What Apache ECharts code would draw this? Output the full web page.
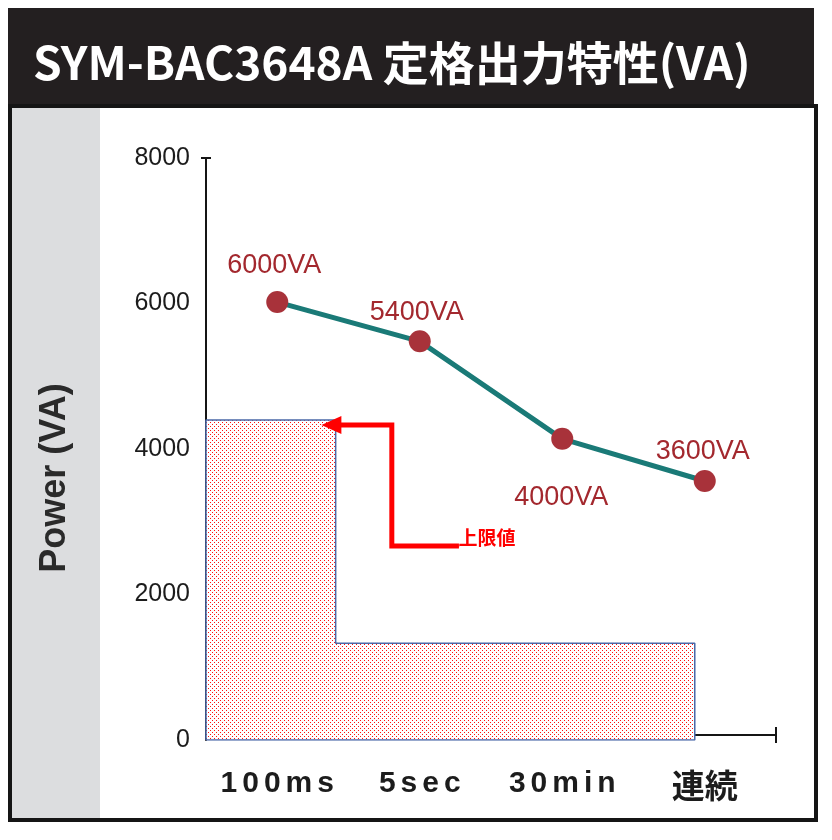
<!DOCTYPE html>
<html>
<head>
<meta charset="utf-8">
<script src="https://cdn.jsdelivr.net/npm/echarts@6/dist/echarts.min.js"></script>
<style>html,body{margin:0;padding:0;background:#fff;}#c{width:832px;height:840px;}</style>
</head>
<body>
<div id="c"></div>
<script>
// ---- data ----
const categories = ['100ms', '5sec', '30min', '連続'];
const powerValues = [6020, 5480, 4140, 3560];
const pointLabels = ['6000VA', '5400VA', '4000VA', '3600VA'];
const yTicks = [0, 2000, 4000, 6000, 8000];
// limit region outline (x in category units, y in VA)
const limitX = [0, 0, 0.91, 0.91, 3.43, 3.43, 0];
const limitY = [0, 4400, 4400, 1330, 1330, 0, 0];
// arrow path (x in category units, y in VA)
const arrowX = [1.775, 1.304, 1.304, 0.88];
const arrowY = [2667, 2667, 4330, 4330];
const arrowText = '上限値';
const titleText = 'SYM-BAC3648A 定格出力特性(VA)';
const yAxisTitle = 'Power (VA)';

// ---- styling helpers ----
const labelOffsets = [[8, -25], [8, -18], [10, 70], [9, -18]];

function makePattern() {
  const c = document.createElement('canvas');
  c.width = 4; c.height = 4;
  const g = c.getContext('2d');
  g.fillStyle = '#ffffff'; g.fillRect(0, 0, 4, 4);
  g.fillStyle = '#ff1010';
  g.fillRect(0, 0, 1, 1);
  g.fillRect(2, 2, 1, 1);
  return c;
}

const chart = echarts.init(document.getElementById('c'), null, {renderer: 'canvas'});

const lineData = powerValues.map((v, i) => ({
  value: v,
  label: {
    show: true,
    formatter: pointLabels[i],
    position: labelOffsets[i],
    align: 'center',
    verticalAlign: 'middle'
  }
}));

const limitData = limitX.map((x, i) => [x, limitY[i]]);
const arrowData = arrowX.map((x, i) => {
  const item = {value: [x, arrowY[i]], symbol: 'none'};
  if (i === 0) {
    item.symbol = 'circle';
    item.symbolSize = 1;
    item.label = {
      show: true, formatter: arrowText, position: [0, -8],
      align: 'left', verticalAlign: 'middle',
      color: '#ff0000', fontSize: 19, fontWeight: 'bold',
      fontFamily: '"Noto Sans CJK JP", sans-serif'
    };
  }
  if (i === arrowX.length - 1) {
    item.symbol = 'triangle';
    item.symbolRotate = 90;
    item.symbolSize = [18, 20];
  }
  return item;
});

const isCJK = s => /[\u3000-\u9fff]/.test(s);

const option = {
  animation: false,
  backgroundColor: '#ffffff',
  graphic: [
    {type: 'rect', z: -10, shape: {x: 8, y: 8, width: 806, height: 100}, style: {fill: '#231f20'}},
    {type: 'rect', z: -10, shape: {x: 12, y: 108, width: 88, height: 710}, style: {fill: '#dcdddf'}},
    {type: 'rect', z: -9, shape: {x: 10, y: 106, width: 806, height: 714}, style: {fill: 'none', stroke: '#151515', lineWidth: 4}},
    {type: 'text', z: -8, left: 33, top: 40, style: {text: titleText, fill: '#ffffff', fontSize: 46, fontWeight: 'bold', fontFamily: '"Noto Sans CJK JP", sans-serif'}},
    {type: 'text', z: -8, x: 55, y: 478, rotation: Math.PI / 2,
      style: {text: yAxisTitle, fill: '#2a2a2a', fontSize: 36, fontWeight: 'bold', fontFamily: '"Liberation Sans", Arial, sans-serif', align: 'center', verticalAlign: 'middle'}}
  ],
  grid: {left: 206, right: 56, top: 158, bottom: 100, containLabel: false},
  xAxis: [
    {
      type: 'category', data: categories, boundaryGap: true, offset: -5,
      axisLine: {show: true, lineStyle: {color: '#151515', width: 2}, symbol: ['none', 'rect'], symbolSize: [16, 2]},
      axisTick: {show: false},
      axisLabel: {
        interval: 0, margin: 34, color: '#1c1c1c', fontSize: 30, fontWeight: 'bold',
        fontFamily: '"Liberation Sans", Arial, "Noto Sans CJK JP", sans-serif',
        formatter: v => isCJK(v) ? '{c|' + v + '}' : v.split('').join('\u2006'),
        rich: {c: {fontSize: 33, fontWeight: 'bold', color: '#1c1c1c', fontFamily: '"Noto Sans CJK JP", sans-serif'}}
      },
      splitLine: {show: false}
    },
    {type: 'value', min: 0, max: 4, show: false}
  ],
  yAxis: {
    type: 'value', min: yTicks[0], max: yTicks[yTicks.length - 1], interval: 2000,
    axisLine: {show: true, lineStyle: {color: '#151515', width: 2}, symbol: ['none', 'rect'], symbolSize: [10, 2]},
    axisTick: {show: false},
    splitLine: {show: false},
    axisLabel: {margin: 16, color: '#1c1c1c', fontSize: 25,
      fontFamily: '"Liberation Sans", Arial, sans-serif',
      formatter: v => String(v)}
  },
  series: [
    {
      type: 'line', xAxisIndex: 1, yAxisIndex: 0, z: 1,
      data: limitData, symbol: 'none',
      lineStyle: {color: '#4a68a8', width: 1.5},
      areaStyle: {color: {image: makePattern(), repeat: 'repeat'}, opacity: 1}
    },
    {
      type: 'line', xAxisIndex: 1, yAxisIndex: 0, z: 3,
      data: arrowData,
      lineStyle: {color: '#ff0000', width: 5, join: 'miter'},
      itemStyle: {color: '#ff0000'}
    },
    {
      type: 'line', xAxisIndex: 0, yAxisIndex: 0, z: 4,
      data: lineData,
      symbol: 'circle', symbolSize: 22,
      lineStyle: {color: '#1a7a77', width: 5},
      itemStyle: {color: '#a8323a'},
      label: {color: '#a3282e', fontSize: 27,
        fontFamily: '"Liberation Sans", Arial, sans-serif'}
    }
  ]
};
chart.setOption(option);
</script>
</body>
</html>
